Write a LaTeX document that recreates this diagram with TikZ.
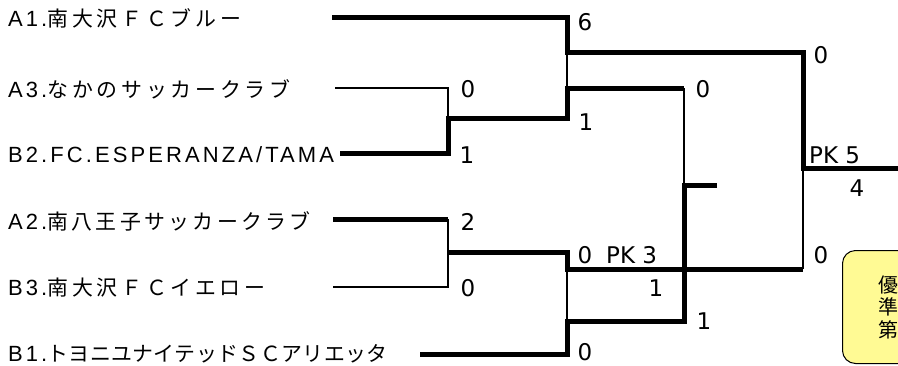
\documentclass[tikz,border=0pt]{standalone}
\usepackage{fontspec}
\setmainfont{Liberation Sans}
\newfontfamily\teamfont{Liberation Sans}[LetterSpace=14]
\newfontfamily\jpw{Noto Sans CJK JP}[Scale=0.95,LetterSpace=18]
\newfontfamily\jp{Noto Sans CJK JP}[Scale=0.95,LetterSpace=16]
\newfontfamily\jpn{Noto Sans CJK JP}[Scale=0.95,LetterSpace=2]
\newfontfamily\scorefont{DejaVu Sans}
\usetikzlibrary{positioning}

\begin{document}
\begin{tikzpicture}[
    x=1pt, y=-1pt,
    team/.style={font=\teamfont\fontsize{22}{24}\selectfont, anchor=west, inner sep=0pt},
    score/.style={font=\scorefont\fontsize{23}{26}\selectfont, inner sep=0pt},
    win/.style={line width=5pt, line join=miter},
    lose/.style={line width=1.2pt},
    resbox/.style={rectangle, draw=black, line width=1pt, fill=yellow!42, rounded corners=13pt, anchor=north west, minimum height=113pt, text width=80pt, inner xsep=36pt, align=left, font=\jp\fontsize{21}{22.5}\selectfont}
]
\useasboundingbox (0,0) rectangle (898,365);
\clip (0,0) rectangle (898,365);

% Teams
\node[team] (a1) at (8,18) {A1.{\jpw 南大沢ＦＣブルー}};
\node[team] (a3) at (8,89) {A3.{\jpw なかのサッカークラブ}};
\node[team] (b2) at (8,155) {B2.FC.ESPERANZA/TAMA};
\node[team] (a2) at (8,221) {A2.{\jp 南八王子サッカークラブ}};
\node[team] (b3) at (8,288) {B3.{\jpw 南大沢ＦＣイエロー}};
\node[team] (b1) at (8,354) {B1.{\jpn トヨニユナイテッドＳＣアリエッタ}};

% Bracket points
\coordinate (a1s) at (332,17);
\coordinate (a3s) at (335,88);
\coordinate (b2s) at (340,153);
\coordinate (a2s) at (333,219);
\coordinate (b3s) at (333,287);
\coordinate (b1s) at (420,354);

\coordinate (m1a) at (448,88);
\coordinate (m1m) at (448,118);
\coordinate (m1b) at (448,153);
\coordinate (m2a) at (448,219);
\coordinate (m2m) at (448,252);
\coordinate (m2b) at (448,287);

\coordinate (c1a) at (567,17);
\coordinate (c1w) at (567,52);
\coordinate (c1l) at (567,88);
\coordinate (c1b) at (567,118);
\coordinate (c2a) at (567,252);
\coordinate (c2w) at (567,269);
\coordinate (c2l) at (567,321);
\coordinate (c2b) at (567,354);

\coordinate (d1) at (684,88);
\coordinate (d2) at (684,185);
\coordinate (d2e) at (717,185);
\coordinate (d3) at (684,321);

\coordinate (f1) at (803,52);
\coordinate (f2) at (803,168);
\coordinate (f2e) at (898,168);
\coordinate (f3) at (803,269);

% Lines
\draw[win] (a1s) -- (c1a) -- (c1w) -- (f1) -- (f2) -- (f2e);
\draw[lose] (c1w) -- (c1l);
\draw[win] (d1) -- (c1l) -- (c1b) -- (m1m) -- (m1b) -- (b2s);
\draw[lose] (a3s) -- (m1a) -- (m1m);
\draw[lose] (d1) -- (d2);
\draw[win] (d2e) -- (d2) -- (d3) -- (c2l) -- (c2b) -- (b1s);
\draw[lose] (c2w) -- (c2l);
\draw[win] (a2s) -- (m2a);
\draw[lose] (m2a) -- (m2b) -- (b3s);
\draw[win] (m2m) -- (c2a) -- (c2w) -- (f3);
\draw[lose] (f2) -- (f3);

% Scores
\node[score] (s1) at (585,22) {6};
\node[score] (s2) at (468,89) {0};
\node[score] (s3) at (467,155) {1};
\node[score] (s4) at (586,122) {1};
\node[score] (s5) at (703,89) {0};
\node[score] (s6) at (821,55) {0};
\node[score, anchor=west] (s7) at (809,155) {PK 5};
\node[score] (s8) at (857,188) {4};
\node[score] (s9) at (468,222) {2};
\node[score] (s10) at (468,288) {0};
\node[score] (s11) at (585,255) {0};
\node[score, anchor=west] (s12) at (606,255) {PK 3};
\node[score] (s13) at (656,288) {1};
\node[score] (s14) at (704,321) {1};
\node[score] (s15) at (585,352) {0};
\node[score] (s16) at (821,255) {0};

% Result box
\node[resbox] (result) at (842,250) {優\\準\\第};

\end{tikzpicture}
\end{document}
